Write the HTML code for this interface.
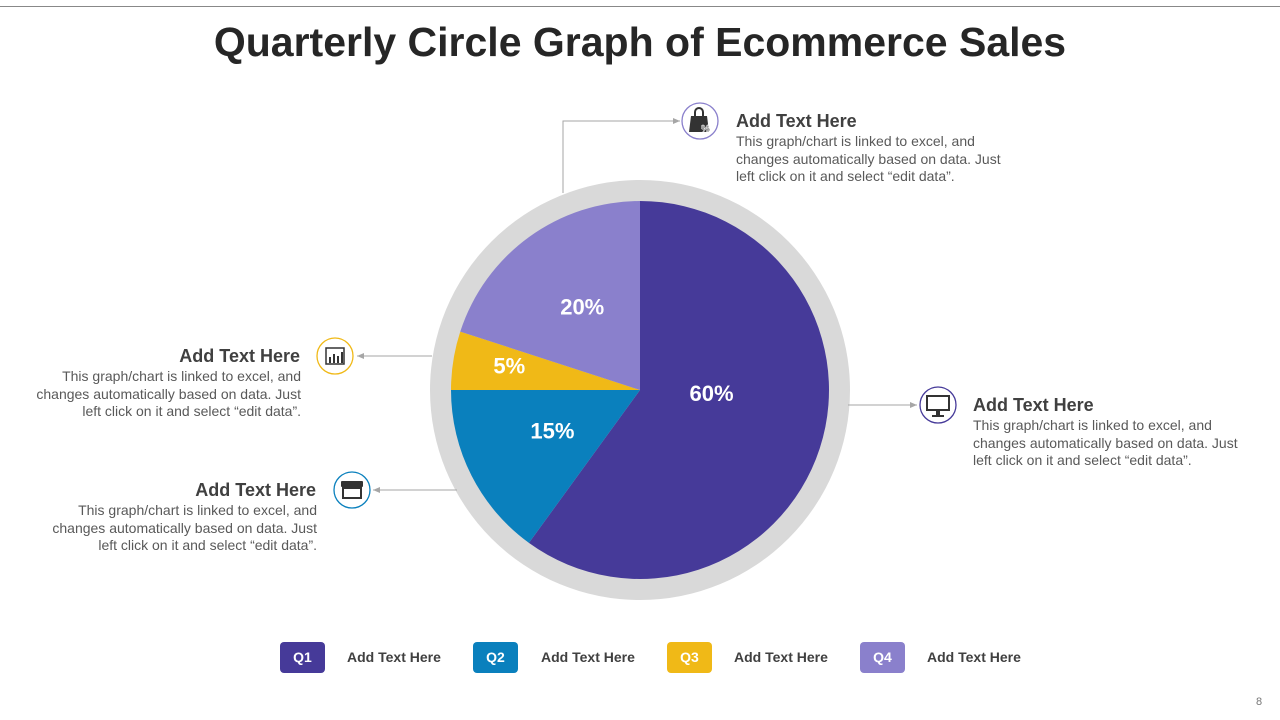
<!DOCTYPE html>
<html><head><meta charset="utf-8"><style>
body{margin:0;width:1280px;height:720px;background:#fff;overflow:hidden;font-family:"Liberation Sans",sans-serif;position:relative}
.t{position:absolute;font-weight:bold;font-size:18px;color:#404040}
.b{position:absolute;font-size:14px;line-height:17.5px;color:#595959;width:282px}
.r{text-align:right}
.lg{position:absolute;top:642px;width:45px;height:31px;border-radius:4px;color:#fff;font-weight:bold;font-size:14px;line-height:31px;text-align:center}
.lt{position:absolute;top:649px;font-size:14px;font-weight:bold;color:#404040}
</style></head><body>
<div style="position:absolute;left:0;top:6px;width:1280px;height:1px;background:#888"></div>
<div style="position:absolute;left:0;width:1280px;top:19px;text-align:center;font-size:41px;font-weight:bold;color:#262626">Quarterly Circle Graph of Ecommerce Sales</div>
<svg id="chart" width="1280" height="720" style="position:absolute;left:0;top:0">
<defs><marker id="ar" markerWidth="8" markerHeight="8" refX="7" refY="4" orient="auto"><path d="M0,1L7,4L0,7z" fill="#a6a6a6"/></marker></defs>
<circle cx="640" cy="390" r="210" fill="#d9d9d9"/>
<g id="slices"></g>
<g fill="none" stroke="#a6a6a6" stroke-width="1">
<path d="M563,193V121H680" marker-end="url(#ar)"/>
<path d="M432,356H357" marker-end="url(#ar)"/>
<path d="M457,490H373" marker-end="url(#ar)"/>
<path d="M848,405H917" marker-end="url(#ar)"/>
</g>
<g fill="#fff" stroke-width="1.3">
<circle cx="700" cy="121" r="18" stroke="#8a80cc"/>
<circle cx="335" cy="356" r="18" stroke="#f0b917"/>
<circle cx="352" cy="490" r="18" stroke="#0a80bd"/>
<circle cx="938" cy="405" r="18" stroke="#463a99"/>
</g>
<g fill="#333">
<path d="M691,116h16l2,16h-20z"/><path d="M695,116v-4a4,4 0 0 1 8,0v4" fill="none" stroke="#333" stroke-width="2"/>
<text x="701" y="132" font-size="10" font-weight="bold" fill="#333" stroke="#fff" stroke-width="0.5">%</text>
<rect x="326" y="348" width="18" height="16" fill="none" stroke="#333" stroke-width="1.5"/>
<rect x="329" y="357" width="2" height="6"/><rect x="333" y="354" width="2" height="9"/><rect x="337" y="356" width="2" height="7"/><rect x="341" y="352" width="2" height="11"/>
<rect x="341" y="481" width="22" height="6" rx="1"/><rect x="343" y="488" width="18" height="10" fill="none" stroke="#333" stroke-width="2"/>
<rect x="927" y="396" width="22" height="14" fill="none" stroke="#333" stroke-width="2"/><rect x="936" y="410" width="4" height="5"/><rect x="932" y="415" width="12" height="2"/>
</g>
<g id="labels" font-family="Liberation Sans, sans-serif" font-weight="bold" font-size="22" fill="#fff" text-anchor="middle"></g>
</svg>
<div class="t" style="left:736px;top:111px">Add Text Here</div>
<div class="b" style="left:736px;top:133px">This graph/chart is linked to excel, and changes automatically based on data. Just left click on it and select “edit data”.</div>
<div class="t r" style="left:0;width:300px;top:346px">Add Text Here</div>
<div class="b r" style="left:19px;top:368px">This graph/chart is linked to excel, and changes automatically based on data. Just left click on it and select “edit data”.</div>
<div class="t r" style="left:0;width:316px;top:480px">Add Text Here</div>
<div class="b r" style="left:35px;top:502px">This graph/chart is linked to excel, and changes automatically based on data. Just left click on it and select “edit data”.</div>
<div class="t" style="left:973px;top:395px">Add Text Here</div>
<div class="b" style="left:973px;top:417px">This graph/chart is linked to excel, and changes automatically based on data. Just left click on it and select “edit data”.</div>
<div class="lg" style="left:280px;background:#463a99">Q1</div>
<div class="lt" style="left:347px">Add Text Here</div>
<div class="lg" style="left:473px;background:#0a80bd">Q2</div>
<div class="lt" style="left:541px">Add Text Here</div>
<div class="lg" style="left:667px;background:#f0b917">Q3</div>
<div class="lt" style="left:734px">Add Text Here</div>
<div class="lg" style="left:860px;background:#8a80cc">Q4</div>
<div class="lt" style="left:927px">Add Text Here</div>
<div style="position:absolute;left:1256px;top:696px;font-size:11px;color:#777">8</div>
<script>
const categories=["Q1","Q2","Q3","Q4"];
const values=[60,15,5,20];
const labels=["60%","15%","5%","20%"];
const colors=["#463a99","#0a80bd","#f0b917","#8a80cc"];
const cx=640,cy=390,R=189;
const ns="http://www.w3.org/2000/svg";
const total=values.reduce((a,b)=>a+b,0);
function pt(a,r){return [cx+r*Math.sin(a),cy-r*Math.cos(a)];}
let acc=0;
const sg=document.getElementById('slices'),lg=document.getElementById('labels');
values.forEach((v,i)=>{
 const a0=acc/total*2*Math.PI;acc+=v;const a1=acc/total*2*Math.PI;
 const p0=pt(a0,R),p1=pt(a1,R);
 const p=document.createElementNS(ns,'path');
 p.setAttribute('d',`M${cx},${cy}L${p0[0]},${p0[1]}A${R},${R} 0 ${a1-a0>Math.PI?1:0} 1 ${p1[0]},${p1[1]}Z`);
 p.setAttribute('fill',colors[i]);
 
 
 sg.appendChild(p);
 const frac=v/total;
 const am=frac>0.5?(a0+a1)/2-0.22:(a0+a1)/2;
 const lr=R*(frac<0.1?0.7:frac>0.5?0.38:0.52);const lp=pt(am,lr);
 const t=document.createElementNS(ns,'text');
 t.setAttribute('x',lp[0]);t.setAttribute('y',lp[1]+4);
 t.textContent=labels[i];
 
 
 lg.appendChild(t);
});
</script>
</body></html>
